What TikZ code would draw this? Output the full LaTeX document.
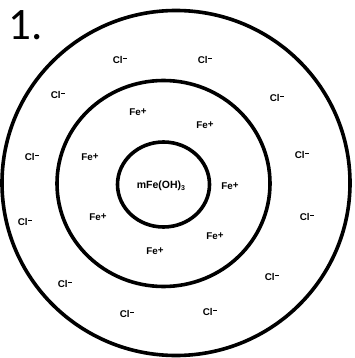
\documentclass[tikz,border=0pt]{standalone}
\usepackage{fontspec}
\setmainfont{Liberation Sans}
\newfontfamily\numfont{Carlito}

\begin{document}
\begin{tikzpicture}[x=1pt, y=-1pt,
        ring/.style={line width=3.6pt, black},
        ion/.style={inner sep=0pt, font=\fontsize{9.8}{11}\selectfont\bfseries}]
        % --- Cadre (proportions de l'image) ---
        \useasboundingbox (0, 0) rectangle (354, 358);

        % --- Centres des trois couches ---
        \coordinate (Cout) at (176, 183);      % couche diffuse
        \coordinate (Cmid) at (163.5, 183.5);  % couche des ions Fe+
        \coordinate (Cin)  at (163.5, 184.5);  % noyau

        % ==============================================================
        % 1. LES TROIS CERCLES
        % ==============================================================
        \draw[ring] (Cout) ellipse [x radius=174, y radius=172.5];
        \draw[ring] (Cmid) ellipse [x radius=106.5, y radius=103];
        \draw[ring] (Cin)  ellipse [x radius=46, y radius=42.5];

        % Numéro de la figure
        \node[anchor=base west, inner sep=0pt, font=\numfont\fontsize{45}{45}\selectfont]
            (num) at (8, 40) {1.};

        % ==============================================================
        % 2. NOYAU
        % ==============================================================
        \node[inner sep=0pt, font=\fontsize{10.5}{12}\selectfont\bfseries]
            (core) at (161, 186) {mFe(OH)\raisebox{-0.25ex}{\fontsize{7}{8}\selectfont 3}};

        % ==============================================================
        % 3. IONS Fe+ (couche intermédiaire)
        % ==============================================================
        \foreach \name/\x/\y in {fa/138/112, fb/205/125, fc/90/157, fd/230/186,
                                 fe/98/217, ff/215/236, fg/155/251}
            \node[ion] (\name) at (\x, \y) {Fe\raisebox{0.2ex}{+}};

        % ==============================================================
        % 4. IONS Cl- (couche externe)
        % ==============================================================
        \foreach \name/\x/\y in {ca/120/60, cb/205/60, cc/58/95, cd/277/98,
                                 ce/32/157, cf/302/155, cg/25/222, ch/307/217,
                                 ci/65/284, cj/272/277, ck/127/314, cl/210/312}
            \node[ion] (\name) at (\x, \y) {Cl\kern0.8pt\raisebox{0.85ex}{\rule{3.8pt}{1.5pt}}};
    \end{tikzpicture}
\end{document}
